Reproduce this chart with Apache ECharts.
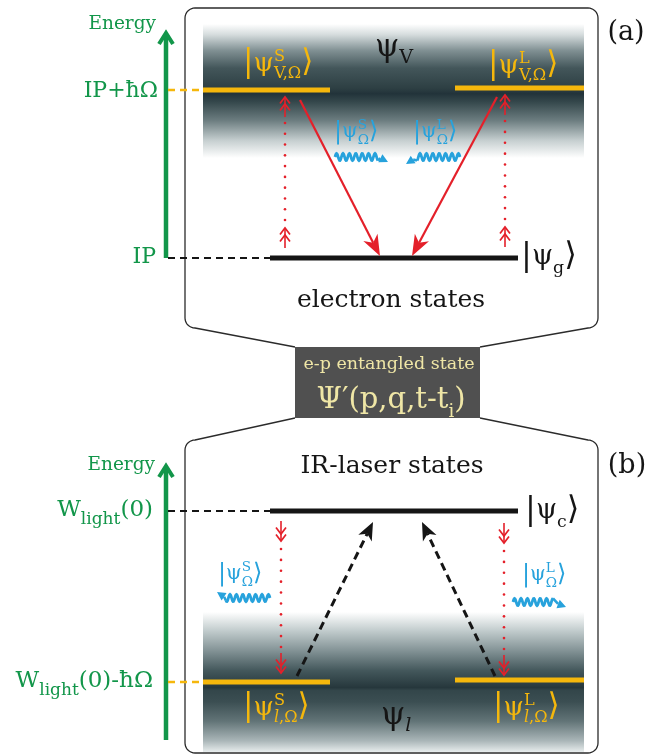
<!DOCTYPE html>
<html><head><meta charset="utf-8">
<script src="https://cdn.jsdelivr.net/npm/echarts@6/dist/echarts.min.js"></script>
<style>html,body{margin:0;padding:0;background:#fff}#c{width:651px;height:756px}</style>
</head><body><div id="c"></div>
<script>
// ================= DATA (diagram coordinates, y grows downward) =================
const energyAxes   = [[166, 258, 31], [166, 740, 464]];              // x, from y, to y
const energyTitles = [[156, 24, 'Energy'], [155, 465, 'Energy']];
const levelNames   = [[158, 91, 'IP+ħΩ'], [156, 257, 'IP'], [153, 510, 'W_{light}(0)'], [153, 681, 'W_{light}(0)-ħΩ']];
const boundLevels  = [[270, 518, 258], [270, 518, 511]];              // x1, x2, y
const edgeLevels   = [[203, 330, 90], [455, 584, 88], [203, 330, 682], [455, 584, 680]];
const guideLines   = [[168, 270, 258, 'black'], [168, 203, 90, 'gold'], [168, 270, 511, 'black'], [168, 203, 682, 'gold']];
const continua     = [[203, 24, 584, 158], [203, 612, 584, 752]];     // x1, y1, x2, y2
const panels       = [[185, 8, 598, 328], [185, 440, 598, 753]];
const neck         = [[295, 347, 480, 418]];
const emissions    = [[300, 100, 380, 256], [497, 97, 412, 256]];     // from -> to
const absorptions  = [[297, 676, 373, 522], [495, 676, 422, 522]];
const ladders      = [[285, 248, 97], [505, 247, 95], [281, 521, 673], [504, 523, 675]];
const photons      = [[335, 157, 378, 388, 162], [460, 157, 417, 406, 164], [270, 598, 226, 217, 592], [513, 602, 553, 566, 607]];
const stateKets    = [[243, 64, '|ψ^{S}_{V,Ω}⟩'], [488, 66, '|ψ^{L}_{V,Ω}⟩'], [243, 708, '|ψ^{S}_{*l*,Ω}⟩'], [493, 708, '|ψ^{L}_{*l*,Ω}⟩']];
const photonKets   = [[334, 132, '|ψ^{S}_{Ω}⟩'], [413, 132, '|ψ^{L}_{Ω}⟩'], [218, 574, '|ψ^{S}_{Ω}⟩'], [522, 575, '|ψ^{L}_{Ω}⟩']];
const boundKets    = [[521, 257, '|ψ_{g}⟩'], [525, 511, '|ψ_{c}⟩']];
const continuumNames = [[375, 48, 'ψ_{V}'], [381, 716, 'ψ_{*l*}']];
const panelTitles  = [[391, 300, 'electron states'], [392, 466, 'IR-laser states']];
const panelTags    = [[626, 33, '(a)'], [627, 466, '(b)']];
const entangledText = [[389, 364, 'e-p entangled state'], [391, 400, 'Ψ′(p,q,t-t_{i})']];

// ================= STYLE =================
const W = 651, H = 756;
const SERIF = '"DejaVu Serif", "Liberation Serif", "DejaVu Sans", serif';
const COL = { green: '#12964a', gold: '#f5b70c', red: '#e4202a', blue: '#27a2dc', black: '#151515',
  box: '#505050', boxText: '#efe6a6', outline: '#2b2b2b' };
const bandStops = [
  [[0,'#ffffff'],[0.08,'#d5dcdd'],[0.2,'#7f8f92'],[0.33,'#43565a'],[0.48,'#2d3f43'],[0.52,'#22333a'],[0.58,'#34474b'],[0.72,'#6c7d80'],[0.87,'#c6cfd0'],[1,'#ffffff']],
  [[0,'#ffffff'],[0.13,'#c3cdce'],[0.28,'#819194'],[0.42,'#43575b'],[0.54,'#26373c'],[0.56,'#33464a'],[0.64,'#3b4e52'],[0.78,'#627477'],[0.92,'#aab6b8'],[1,'#e8eded']]
];
const K = 0.33; // canvas "middle" -> alphabetic baseline, in em

const mctx = document.createElement('canvas').getContext('2d');
function fontStr(s, it) { return (it ? 'italic ' : '') + s.toFixed(2) + 'px ' + SERIF; }
function tw(t, s, it) { mctx.font = fontStr(s, it); return mctx.measureText(t).width; }

function parseRich(str) {
  const out = [];
  const push = (t, kind) => { let it = false, buf = '';
    for (const ch of t) { if (ch === '*') { if (buf) out.push({ t: buf, kind, it }); buf = ''; it = !it; } else buf += ch; }
    if (buf) out.push({ t: buf, kind, it }); };
  let i = 0, buf = '';
  while (i < str.length) {
    const ch = str[i];
    if ((ch === '^' || ch === '_') && str[i + 1] === '{') {
      if (buf) { push(buf, 'n'); buf = ''; }
      const e = str.indexOf('}', i); push(str.slice(i + 2, e), ch === '^' ? 'sup' : 'sub'); i = e + 1;
    } else if (ch === '|' || ch === '⟩') {
      if (buf) { push(buf, 'n'); buf = ''; }
      out.push({ t: ch, kind: 'big', it: false }); i++;
    } else { buf += ch; i++; }
  }
  if (buf) push(buf, 'n');
  return out;
}
// returns text elements; (x,y) pixel anchor, y = vertical middle of main text
function richText(str, x, y, S, color, align, o) {
  o = Object.assign({ big: 1.2, sc: 0.6, sup: -0.42, sub: 0.27, bigShift: 0.04 }, o || {});
  const toks = parseRich(str), B = y + K * S, items = [];
  let cx = 0, grp = null;
  for (const tk of toks) {
    let s, yb;
    if (tk.kind === 'n') { s = S; yb = B; }
    else if (tk.kind === 'big') { s = S * o.big; yb = B + o.bigShift * S; }
    else { s = S * o.sc; yb = B + (tk.kind === 'sup' ? o.sup : o.sub) * S; }
    const w = tw(tk.t, s, tk.it);
    let px;
    if (tk.kind === 'sup' || tk.kind === 'sub') {
      if (!grp) grp = { sup: cx, sub: cx };
      px = grp[tk.kind]; grp[tk.kind] += w; cx = Math.max(grp.sup, grp.sub);
    } else { grp = null; px = cx; cx += w; }
    items.push({ t: tk.t, s, it: tk.it, px, yb });
  }
  const x0 = align === 'right' ? x - cx : align === 'center' ? x - cx / 2 : x;
  return items.map(d => ({ type: 'text', style: { text: d.t, x: x0 + d.px, y: d.yb - K * d.s, font: fontStr(d.s, d.it),
    fill: color, align: 'left', verticalAlign: 'middle', textAlign: 'left', textVerticalAlign: 'middle' } }));
}
function line(a, b, color, lw, dash) {
  return { type: 'line', shape: { x1: a[0], y1: a[1], x2: b[0], y2: b[1] }, style: { stroke: color, lineWidth: lw, lineDash: dash || null, lineCap: 'butt' } };
}
function poly(pts, color, lw) {
  return { type: 'polyline', shape: { points: pts }, style: { stroke: color, fill: 'none', lineWidth: lw, lineJoin: 'miter', lineCap: 'butt' } };
}
function polygon(pts, fill) { return { type: 'polygon', shape: { points: pts }, style: { fill: fill, stroke: 'none' } }; }
function head(p1, p2, len, hw, notch) {
  const dx = p2[0] - p1[0], dy = p2[1] - p1[1], L = Math.hypot(dx, dy), ux = dx / L, uy = dy / L, nx = -uy, ny = ux;
  const bx = p2[0] - ux * len, by = p2[1] - uy * len, mx = p2[0] - ux * (len - notch), my = p2[1] - uy * (len - notch);
  return { pts: [[p2[0], p2[1]], [bx + nx * hw, by + ny * hw], [mx, my], [bx - nx * hw, by - ny * hw]], base: [mx, my] };
}
function arc(cx, cy, r, a0, a1) {
  const pts = []; for (let i = 0; i <= 8; i++) { const a = (a0 + (a1 - a0) * i / 8) * Math.PI / 180; pts.push([cx + r * Math.cos(a), cy + r * Math.sin(a)]); } return pts;
}

// custom-series layer factory: each item is drawn from its source row through api.coord
function layer(arr, z, draw) {
  return { type: 'custom', coordinateSystem: 'cartesian2d', z: z, silent: true, clip: false, animation: false,
    data: arr.map(d => [d[0], d[1]]),
    renderItem: (params, api) => ({ type: 'group', children: draw(arr[params.dataIndex], api, params.dataIndex) }) };
}
const P = (api, x, y) => api.coord([x, y]);

const series = [
  layer(continua, 1, (d, api, i) => {
    const a = P(api, d[0], d[1]), b = P(api, d[2], d[3]);
    return [{ type: 'rect', shape: { x: a[0], y: a[1], width: b[0] - a[0], height: b[1] - a[1] },
      style: { fill: new echarts.graphic.LinearGradient(0, 0, 0, 1, bandStops[i].map(s => ({ offset: s[0], color: s[1] }))) } }];
  }),
  layer(panels, 2, (d, api, i) => {
    const n = neck[0], r = 10, [x1, y1, x2, y2] = d; let pts;
    if (i === 0) pts = [[n[0], n[1]], [x1 + r, y2]].concat(arc(x1 + r, y2 - r, r, 90, 180), arc(x1 + r, y1 + r, r, 180, 270),
      arc(x2 - r, y1 + r, r, 270, 360), arc(x2 - r, y2 - r, r, 0, 90), [[n[2], n[1]]]);
    else pts = [[n[0], n[3]], [x1 + r, y1]].concat(arc(x1 + r, y1 + r, r, 270, 180), arc(x1 + r, y2 - r, r, 180, 90),
      arc(x2 - r, y2 - r, r, 90, 0), arc(x2 - r, y1 + r, r, 0, -90), [[n[2], n[3]]]);
    return [poly(pts.map(p => P(api, p[0], p[1])), COL.outline, 1.3)];
  }),
  layer(neck, 3, (d, api) => {
    const a = P(api, d[0], d[1]), b = P(api, d[2], d[3]);
    return [{ type: 'rect', shape: { x: a[0], y: a[1], width: b[0] - a[0], height: b[1] - a[1] }, style: { fill: COL.box } }];
  }),
  layer(entangledText, 4, (d, api, i) => { const p = P(api, d[0], d[1]); return richText(d[2], p[0], p[1], i === 0 ? 17.5 : 29, COL.boxText, 'center', { sub: 0.3, sc: 0.62 }); }),
  layer(energyAxes, 5, (d, api) => {
    const a = P(api, d[0], d[1]), b = P(api, d[0], d[2]);
    return [line(a, [b[0], b[1] + 3], COL.green, 4.5), poly([[b[0] - 7, b[1] + 13], [b[0], b[1] + 2], [b[0] + 7, b[1] + 13]], COL.green, 4)];
  }),
  layer(energyTitles, 5, (d, api) => { const p = P(api, d[0], d[1]); return richText(d[2], p[0], p[1], 18.5, COL.green, 'right'); }),
  layer(levelNames, 5, (d, api, i) => { const p = P(api, d[0], d[1]); return richText(d[2], p[0], p[1], i < 2 ? 22 : 23, COL.green, 'right', { sc: 0.74, sub: 0.32 }); }),
  layer(guideLines, 5, (d, api) => [line(P(api, d[0], d[2]), P(api, d[1], d[2]), d[3] === 'gold' ? COL.gold : COL.black, d[3] === 'gold' ? 2.5 : 2, [7, 5])]),
  layer(boundLevels, 6, (d, api) => [line(P(api, d[0], d[2]), P(api, d[1], d[2]), COL.black, 5)]),
  layer(edgeLevels, 6, (d, api) => [line(P(api, d[0], d[2]), P(api, d[1], d[2]), COL.gold, 5)]),
  layer(emissions, 7, (d, api) => {
    const a = P(api, d[0], d[1]), b = P(api, d[2], d[3]), h = head(a, b, 21, 8, 6);
    return [line(a, h.base, COL.red, 2.2), polygon(h.pts, COL.red)];
  }),
  layer(absorptions, 7, (d, api) => {
    const a = P(api, d[0], d[1]), b = P(api, d[2], d[3]), h = head(a, b, 18, 7.5, 5);
    return [line(a, h.base, COL.black, 3, [8, 5]), polygon(h.pts, COL.black)];
  }),
  layer(ladders, 7, (d, api) => {
    const a = P(api, d[0], d[1]), b = P(api, d[0], d[2]), x = a[0], s = Math.sign(b[1] - a[1]), g = 20, out = [];
    const chev = tip => poly([[x - 5, tip - s * 6.5], [x, tip], [x + 5, tip - s * 6.5]], COL.red, 1.7);
    out.push(line([x, a[1]], [x, a[1] + s * g], COL.red, 1.6), chev(a[1] + s * g), chev(a[1] + s * (g - 7)));
    out.push(line([x, b[1] - s * g], [x, b[1]], COL.red, 1.6), chev(b[1]), chev(b[1] - s * 7));
    const y0 = a[1] + s * (g + 8), y1 = b[1] - s * (g + 6), n = Math.max(2, Math.round(Math.abs(y1 - y0) / 11) + 1);
    for (let k = 0; k < n; k++) out.push({ type: 'circle', shape: { cx: x, cy: y0 + (y1 - y0) * k / (n - 1), r: 1.3 }, style: { fill: COL.red } });
    return out;
  }),
  layer(photons, 8, (d, api) => {
    const a = P(api, d[0], d[1]), e = P(api, d[2], d[1]), t = P(api, d[3], d[4]);
    const dir = Math.sign(e[0] - a[0]), len = Math.abs(e[0] - a[0]), pts = [];
    for (let u = 0; u <= len; u += 0.5) pts.push([a[0] + dir * u, a[1] - 3.6 * Math.sin(2 * Math.PI * u / 6.4)]);
    const h = head([e[0], e[1]], t, 8.5, 4.5, 0);
    return [poly(pts, COL.blue, 2.8), line(pts[pts.length - 1], h.base, COL.blue, 2.6), polygon(h.pts, COL.blue)];
  }),
  layer(stateKets, 9, (d, api) => { const p = P(api, d[0], d[1]); return richText(d[2], p[0], p[1], 26, COL.gold, 'left', { sc: 0.62 }); }),
  layer(photonKets, 9, (d, api) => { const p = P(api, d[0], d[1]); return richText(d[2], p[0], p[1], 20, COL.blue, 'left', { sc: 0.68, sup: -0.45, sub: 0.3 }); }),
  layer(boundKets, 9, (d, api) => { const p = P(api, d[0], d[1]); return richText(d[2], p[0], p[1], 27, COL.black, 'left', { sub: 0.3, sc: 0.64 }); }),
  layer(continuumNames, 9, (d, api) => { const p = P(api, d[0], d[1]); return richText(d[2], p[0], p[1], 31, COL.black, 'left', { sub: 0.2, sc: 0.62 }); }),
  layer(panelTitles, 9, (d, api) => { const p = P(api, d[0], d[1]); return richText(d[2], p[0], p[1], 25, COL.black, 'center'); }),
  layer(panelTags, 9, (d, api) => { const p = P(api, d[0], d[1]); return richText(d[2], p[0], p[1], 27, COL.black, 'center'); })
];

const chart = echarts.init(document.getElementById('c'), null, { renderer: 'canvas' });
chart.setOption({
  animation: false,
  grid: { left: 0, right: 0, top: 0, bottom: 0 },
  xAxis: { type: 'value', min: 0, max: W, show: false },
  yAxis: { type: 'value', min: 0, max: H, inverse: true, show: false },
  series: series
});
</script></body></html>
